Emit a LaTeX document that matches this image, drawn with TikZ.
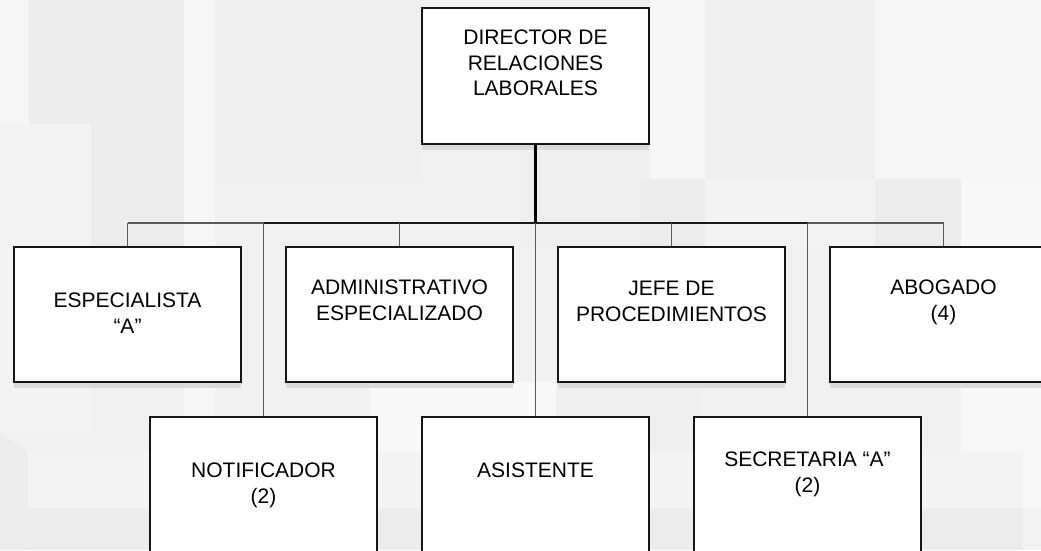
\documentclass[tikz,border=0pt]{standalone}
\usepackage{fontspec}
\setmainfont{Liberation Sans}
\usetikzlibrary{shadows}
\definecolor{bgbase}{HTML}{F1F1F1}
\definecolor{bgl}{HTML}{F6F6F6}
\definecolor{bgll}{HTML}{F8F8F8}
\definecolor{bgd}{HTML}{ECECEC}
\definecolor{bgm}{HTML}{EFEFEF}
\definecolor{bgs}{HTML}{F3F3F3}
\definecolor{shadowc}{HTML}{DADADA}
\definecolor{linegray}{HTML}{5A5A5A}
\definecolor{boxline}{HTML}{151515}
\tikzset{
  orgbox/.style={draw=boxline, line width=1.1pt, fill=white, rectangle, inner sep=0pt,
    minimum width=170.25pt, minimum height=101.5pt,
    drop shadow={shadow xshift=0pt, shadow yshift=-4.5pt, fill=shadowc, opacity=1}},
  orgtext/.style={anchor=north, inner sep=0pt, align=center, text=black,
    font=\fontsize{15.75}{19.1}\selectfont},
  mainline/.style={line width=1.6pt, draw=black},
  busline/.style={line width=1.2pt, draw=black!90},
  subline/.style={line width=0.8pt, draw=linegray},
}
\begin{document}
\begin{tikzpicture}[x=0.75pt, y=-0.75pt]
\useasboundingbox (0,0) rectangle (1041,550);
\begin{scope}
\clip (0,0) rectangle (1041,550);
% background patchwork
\fill[bgbase] (0,0) rectangle (1041,550);
\fill[bgl] (0,0) rectangle (29,124);
\fill[bgd] (29,0) rectangle (184,247);
\fill[bgs] (0,124) rectangle (91,433);
\fill[bgl] (184,0) rectangle (215,550);
\fill[bgm] (215,0) rectangle (420,180);
\fill[bgm] (520,0) rectangle (650,247);
\fill[bgl] (650,0) rectangle (705,179);
\fill[bgm] (705,0) rectangle (875,179);
\fill[bgl] (875,0) rectangle (1041,179);
\fill[bgd] (640,179) rectangle (705,247);
\fill[bgs] (705,179) rectangle (875,247);
\fill[bgd] (875,179) rectangle (961,247);
\fill[bgll] (961,179) rectangle (1041,550);
\fill[bgll] (370,382) rectangle (556,453);
\fill[bgm] (556,382) rectangle (700,453);
\fill[bgd] (0,433) -- (28,452) -- (28,550) -- (0,550) -- cycle;
\fill[bgs] (28,452) rectangle (1023,508);
\fill[bgd] (28,508) rectangle (1023,550);
\fill[bgs] (1023,508) rectangle (1041,550);

% boxes
\node[orgbox, minimum height=102pt] (dir) at (535.5,76) {};
\node[orgbox] (esp) at (127.5,314.5) {};
\node[orgbox] (adm) at (399.5,314.5) {};
\node[orgbox] (jefe) at (671.5,314.5) {};
\node[orgbox] (abo) at (943.5,314.5) {};
\node[orgbox, minimum height=102pt] (noti) at (263.5,485) {};
\node[orgbox, minimum height=102pt] (asis) at (535.5,485) {};
\node[orgbox, minimum height=102pt] (secr) at (807.5,485) {};

% texts
\node[orgtext] (tdir) at (535.5,30) {DIRECTOR DE\\RELACIONES\\LABORALES};
\node[orgtext] (tesp) at (127.5,293) {ESPECIALISTA\\“A”};
\node[orgtext] (tadm) at (399.5,280) {ADMINISTRATIVO\\ESPECIALIZADO};
\node[orgtext] (tjefe) at (671.5,281) {JEFE DE\\PROCEDIMIENTOS};
\node[orgtext] (tabo) at (943.5,280) {ABOGADO\\(4)};
\node[orgtext] (tnoti) at (263.5,463) {NOTIFICADOR\\(2)};
\node[orgtext] (tasis) at (535.5,463) {ASISTENTE};
\node[orgtext] (tsecr) at (807.5,452) {SECRETARIA “A”\\(2)};

% connectors
\coordinate (busy) at (0,223);
\coordinate (busL) at (esp.north |- busy);
\coordinate (busR) at (abo.north |- busy);
\coordinate (busIL) at (noti.north |- busy);
\coordinate (busIR) at (secr.north |- busy);
\draw[subline] (busL) -- (busIL);
\draw[subline] (busIR) -- (busR);
\draw[busline] (busIL) -- (busIR);
\draw[mainline] (dir.south) -- (dir.south |- busy);
\draw[subline] (esp.north) -- (esp.north |- busy);
\draw[subline] (adm.north) -- (adm.north |- busy);
\draw[subline] (jefe.north) -- (jefe.north |- busy);
\draw[subline] (abo.north) -- (abo.north |- busy);
\draw[subline] (noti.north) -- (noti.north |- busy);
\draw[subline] (asis.north) -- (asis.north |- busy);
\draw[subline] (secr.north) -- (secr.north |- busy);
\end{scope}
\end{tikzpicture}
\end{document}
